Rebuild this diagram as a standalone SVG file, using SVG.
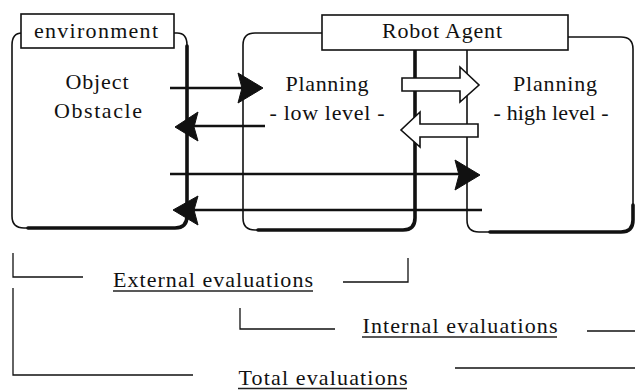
<svg xmlns="http://www.w3.org/2000/svg" width="635" height="390" viewBox="0 0 635 390">
  <style>
    .thin { fill: none; stroke: #111; stroke-width: 1.6; stroke-linejoin: round; }
    .thick { fill: none; stroke: #111; stroke-width: 3.6; stroke-linecap: round; stroke-linejoin: round; }
    .label { fill: #fff; stroke: #111; stroke-width: 1.6; }
    .wire { fill: none; stroke: #111; stroke-width: 2.6; }
    .head { fill: #111; stroke: #111; stroke-width: 1; stroke-linejoin: round; }
    .block { fill: #fff; stroke: #111; stroke-width: 1.6; stroke-linejoin: miter; }
    .bracket { fill: none; stroke: #111; stroke-width: 1.3; }
    .underline { fill: none; stroke: #222; stroke-width: 1.3; }
    text { font-family: "Liberation Serif", "Times New Roman", serif; font-size: 22px; fill: #111; text-anchor: middle; }
  </style>

  <!-- environment box -->
  <g id="environment">
    <path class="thin" d="M22,33 Q12,33 12,45 L12,216 Q12,228 24,228 L175,228 Q187,228 187,216 L187,45 Q187,33 177,33 L172,33"/>
    <path class="thick" d="M187,46 L187,216 Q187,228 175,228 L28,228"/>
    <rect class="label" x="21" y="14" width="153" height="34"/>
    <text x="96" y="38" textLength="124" lengthAdjust="spacing">environment</text>
    <text x="97" y="89" textLength="63" lengthAdjust="spacing">Object</text>
    <text x="98" y="118" textLength="88" lengthAdjust="spacing">Obstacle</text>
  </g>

  <!-- low level planning box -->
  <g id="planning-low">
    <path class="thin" d="M322,33 L255,33 Q243,33 243,45 L243,218 Q243,230 255,230 L403,230 Q415,230 415,218 L415,50"/>
    <path class="thick" d="M415,50 L415,218 Q415,230 403,230 L258,230"/>
    <text x="327" y="91" textLength="83" lengthAdjust="spacing">Planning</text>
    <text x="327" y="120" textLength="115" lengthAdjust="spacing">- low level -</text>
  </g>

  <!-- high level planning box -->
  <g id="planning-high">
    <path class="thin" d="M568,37 L621,37 Q633,37 633,49 L633,220 Q633,232 621,232 L479,232 Q467,232 467,220 L467,50"/>
    <path class="thick" d="M633,205 L633,220 Q633,232 621,232 L490,232"/>
    <text x="555" y="91" textLength="84" lengthAdjust="spacing">Planning</text>
    <text x="551" y="120" textLength="115" lengthAdjust="spacing">- high level -</text>
  </g>

  <!-- arrows between the boxes -->
  <g id="connectors">
    <path class="wire" d="M170,88 H246"/>
    <polygon class="head" points="238,73 263,88 238,103 242,88"/>

    <path class="wire" d="M265,126 H192"/>
    <polygon class="head" points="198,112 175,127 198,141 194,127"/>

    <path class="wire" d="M170,174 H462"/>
    <polygon class="head" points="455,160 480,175 455,190 459,175"/>

    <path class="wire" d="M482,210 H192"/>
    <polygon class="head" points="198,196 173,210 198,225 194,210"/>

    <polygon class="block" points="402,78 460,78 460,67 479,85 460,102 460,91 402,91"/>
    <polygon class="block" points="478,124 420,124 420,112 401,130 420,147 420,137 478,137"/>
  </g>

  <!-- Robot Agent title -->
  <g id="robot-agent">
    <rect class="label" x="322" y="15" width="246" height="35"/>
    <text x="442" y="38" textLength="120" lengthAdjust="spacing">Robot Agent</text>
  </g>

  <!-- evaluation spans -->
  <g id="external-evaluations">
    <path class="bracket" d="M13,253 V277 H83"/>
    <path class="bracket" d="M343,282 H408 V258"/>
    <text x="213" y="287" textLength="200" lengthAdjust="spacing">External evaluations</text>
    <path class="underline" d="M113,291 H313"/>
  </g>
  <g id="internal-evaluations">
    <path class="bracket" d="M240,308 V329 H335"/>
    <path class="bracket" d="M587,331 H635"/>
    <text x="460" y="333" textLength="195" lengthAdjust="spacing">Internal evaluations</text>
    <path class="underline" d="M362,337 H557"/>
  </g>
  <g id="total-evaluations">
    <path class="bracket" d="M13,288 V375 H193"/>
    <path class="bracket" d="M455,368 H635"/>
    <text x="323" y="385" textLength="169" lengthAdjust="spacing">Total evaluations</text>
    <path class="underline" d="M238,388.5 H407"/>
  </g>
</svg>
